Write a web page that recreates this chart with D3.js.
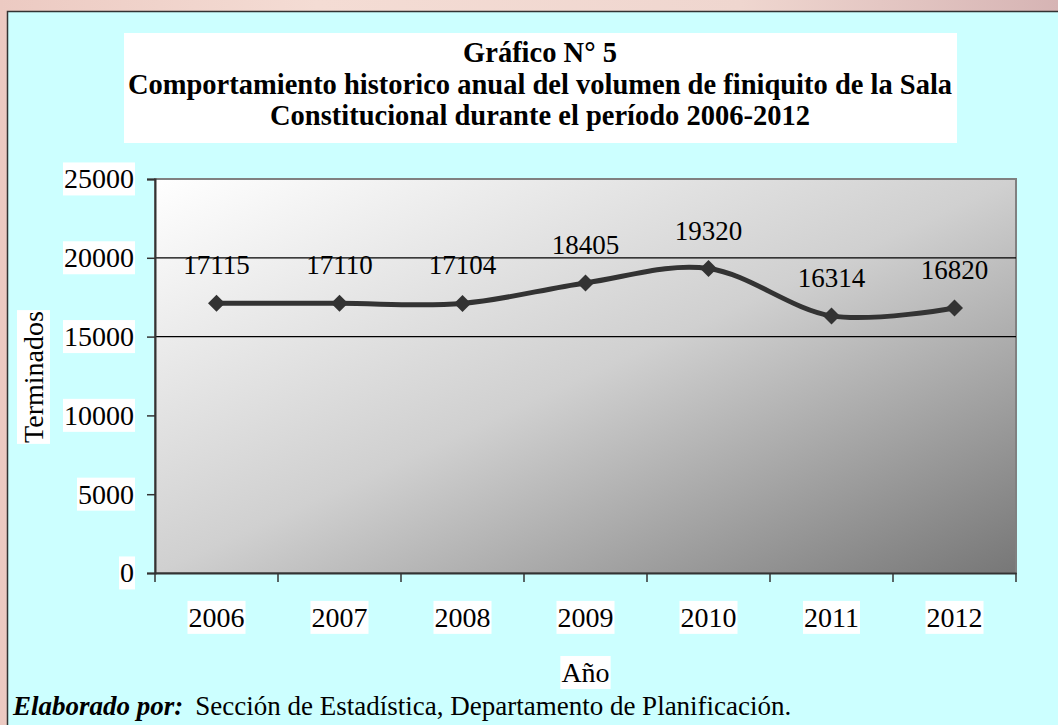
<!DOCTYPE html>
<html><head><meta charset="utf-8">
<script src="https://cdn.jsdelivr.net/npm/d3@7/dist/d3.min.js"></script>
<style>body{margin:0;overflow:hidden;} svg{display:block;}</style>
</head><body>
<svg id="chart" width="1058" height="725"></svg>
<script>
const categories = ["2006","2007","2008","2009","2010","2011","2012"];
const values = [17115,17110,17104,18405,19320,16314,16820];
const yTickValues = [0,5000,10000,15000,20000,25000];
const gridValues = [15000,20000];
const titleLines = ["Gráfico N° 5","Comportamiento historico anual del volumen de finiquito de la Sala","Constitucional durante el período 2006-2012"];
const yTitle = "Terminados";
const xTitle = "Año";
const footerBold = "Elaborado por:";
const footerText = "Sección de Estadística, Departamento de Planificación.";

const W = 1058, H = 725;
const svg = d3.select("#chart");
const defs = svg.append("defs");
const bg = defs.append("linearGradient").attr("id","bg").attr("x1",0).attr("y1",0).attr("x2",1).attr("y2",0);
bg.append("stop").attr("offset",0).attr("stop-color","#eccac2");
bg.append("stop").attr("offset",0.3).attr("stop-color","#f4dcd4");
bg.append("stop").attr("offset",0.7).attr("stop-color","#efd6cf");
bg.append("stop").attr("offset",1).attr("stop-color","#d6b4b4");
const pg = defs.append("linearGradient").attr("id","pg").attr("x1",0).attr("y1",0).attr("x2",1).attr("y2",1);
pg.append("stop").attr("offset",0).attr("stop-color","#ffffff");
pg.append("stop").attr("offset",0.5).attr("stop-color","#d0d0d0");
pg.append("stop").attr("offset",1).attr("stop-color","#777777");

svg.append("rect").attr("width",W).attr("height",H).attr("fill","url(#bg)");
svg.append("rect").attr("x",7.5).attr("y",11.5).attr("width",W).attr("height",H)
  .attr("fill","#ccffff").attr("stroke","#333").attr("stroke-width",1.5);

const font = "'Liberation Serif','Times New Roman',serif";

// title
svg.append("rect").attr("x",124).attr("y",33).attr("width",833).attr("height",110).attr("fill","#fff");
const tt = svg.append("text").attr("font-family",font).attr("font-weight","bold").attr("font-size",28.5)
  .attr("text-anchor","middle").attr("fill","#000");
titleLines.forEach((t,i)=>{ tt.append("tspan").attr("x",540).attr("y",62 + i*31.5).text(t); });

const m = {left:155, right:1016, top:179, bottom:573};
const x = d3.scaleBand().domain(categories).range([m.left,m.right]);
const y = d3.scaleLinear().domain([0,25000]).range([m.bottom,m.top]);

// plot area
svg.append("rect").attr("x",m.left).attr("y",m.top).attr("width",m.right-m.left).attr("height",m.bottom-m.top)
  .attr("fill","url(#pg)").attr("stroke","#808080").attr("stroke-width",2);

// gridlines
svg.append("g").selectAll("line").data(gridValues).join("line")
  .attr("x1",m.left).attr("x2",m.right).attr("y1",d=>y(d)).attr("y2",d=>y(d))
  .attr("stroke","#000").attr("stroke-width",1.2);

// y axis
const ya = svg.append("g").attr("transform",`translate(${m.left},0)`)
  .call(d3.axisLeft(y).tickValues(yTickValues).tickSize(8).tickPadding(13).tickFormat(d3.format("d")));
ya.select(".domain").attr("stroke","#333").attr("stroke-width",2);
ya.selectAll(".tick line").attr("stroke","#333").attr("stroke-width",1.5);
ya.selectAll("text").attr("font-family",font).attr("font-size",28).attr("fill","#000");

// x axis
const xa = svg.append("g").attr("transform",`translate(0,${m.bottom})`)
  .call(d3.axisBottom(x).tickSize(0).tickPadding(34));
xa.select(".domain").attr("stroke","#333").attr("stroke-width",2);
xa.selectAll("text").attr("font-family",font).attr("font-size",28).attr("fill","#000");
// category boundary ticks
svg.append("g").selectAll("line").data(categories.concat(["end"])).join("line")
  .attr("x1",(d,i)=> i<categories.length ? x(d) : m.right)
  .attr("x2",(d,i)=> i<categories.length ? x(d) : m.right)
  .attr("y1",m.bottom).attr("y2",m.bottom+9).attr("stroke","#333").attr("stroke-width",1.5);

// white label backgrounds
function whiteBg(sel){
  sel.each(function(){
    const b = this.getBBox();
    d3.select(this.parentNode).insert("rect","text")
      .attr("x",b.x-1).attr("y",b.y-1).attr("width",b.width+2).attr("height",b.height+2).attr("fill","#fff");
  });
}
whiteBg(ya.selectAll("text"));
whiteBg(xa.selectAll("text"));

// line
const line = d3.line().x((d,i)=>x(categories[i])+x.bandwidth()/2).y(d=>y(d)).curve(d3.curveCatmullRom.alpha(0));
svg.append("path").datum(values).attr("d",line).attr("fill","none").attr("stroke","#333").attr("stroke-width",5);

// markers
svg.append("g").selectAll("path").data(values).join("path")
  .attr("transform",(d,i)=>`translate(${x(categories[i])+x.bandwidth()/2},${y(d)})`)
  .attr("d","M0,-8.5L8.5,0L0,8.5L-8.5,0Z").attr("fill","#333");

// data labels
svg.append("g").selectAll("text").data(values).join("text")
  .attr("x",(d,i)=>x(categories[i])+x.bandwidth()/2).attr("y",d=>y(d)-29)
  .attr("text-anchor","middle").attr("font-family",font).attr("font-size",27).attr("fill","#000")
  .text(d=>d);

// axis titles
const yt = svg.append("g").attr("transform","translate(43,377) rotate(-90)");
yt.append("text").attr("text-anchor","middle").attr("font-family",font).attr("font-size",28).text(yTitle);
whiteBg(yt.selectAll("text"));
const xt = svg.append("g");
xt.append("text").attr("x",(m.left+m.right)/2).attr("y",682).attr("text-anchor","middle")
  .attr("font-family",font).attr("font-size",28).text(xTitle);
whiteBg(xt.selectAll("text"));

// footer
const ft = svg.append("text").attr("x",13).attr("y",715).attr("font-family",font).attr("font-size",27);
ft.append("tspan").attr("font-weight","bold").attr("font-style","italic").text(footerBold);
ft.append("tspan").attr("dx",12).text(footerText);
</script>
</body></html>
